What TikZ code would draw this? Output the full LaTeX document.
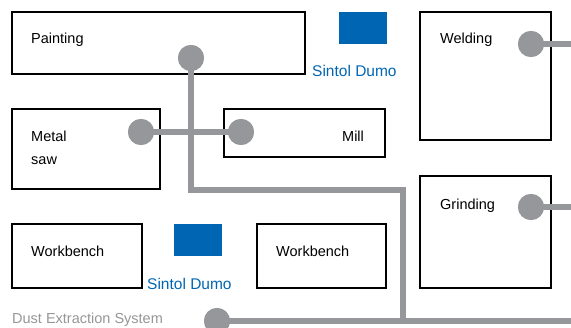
\documentclass[tikz,border=0pt]{standalone}
\usepackage{fontspec}
\setmainfont{Liberation Sans}
\definecolor{pipegray}{RGB}{150,151,155}
\definecolor{unitblue}{RGB}{0,102,179}
\definecolor{captiongray}{RGB}{150,150,150}
\tikzset{
  station/.style={draw=black, line width=1.8pt, fill=white, anchor=north west,
    inner sep=0pt, outer sep=0pt},
  label/.style={anchor=base west, inner sep=0pt, font=\fontsize{14.5}{16}\selectfont},
  unitlabel/.style={label, text=unitblue, font=\fontsize{15.5}{17}\selectfont},
  unit/.style={fill=unitblue, anchor=north west, inner sep=0pt, outer sep=0pt,
    minimum width=48pt, minimum height=32pt},
  pipe/.style={draw=pipegray, line width=6.5pt, line join=miter},
  port/.style={circle, fill=pipegray, inner sep=0pt, minimum size=26pt}
}
\begin{document}
\begin{tikzpicture}[x=1pt, y=-1pt]
  \useasboundingbox (0,0) rectangle (571,328);

  % workstations
  \node[station, minimum width=293pt, minimum height=62pt] (painting) at (12,12) {};
  \node[station, minimum width=131pt, minimum height=128pt] (welding) at (420,12) {};
  \node[station, minimum width=148pt, minimum height=80pt] (saw) at (12,109) {};
  \node[station, minimum width=161pt, minimum height=48pt] (mill) at (224,109) {};
  \node[station, minimum width=131pt, minimum height=112pt] (grinding) at (420,176) {};
  \node[station, minimum width=130pt, minimum height=64pt] (bench1) at (12,224) {};
  \node[station, minimum width=129pt, minimum height=64pt] (bench2) at (257,224) {};

  % station names
  \node[label] (tPainting) at (31,44) {Painting};
  \node[label] (tWelding) at (440,44) {Welding};
  \node[label] (tMetal) at (31,142) {Metal};
  \node[label] (tSaw) at (31,165) {saw};
  \node[label] (tMill) at (342,142) {Mill};
  \node[label] (tGrinding) at (440,210) {Grinding};
  \node[label] (tBench1) at (31,257) {Workbench};
  \node[label] (tBench2) at (276,257) {Workbench};

  % extraction units
  \node[unit] (unitA) at (339,12) {};
  \node[unitlabel] (tUnitA) at (312,77) {Sintol Dumo};
  \node[unit] (unitB) at (174,224) {};
  \node[unitlabel] (tUnitB) at (147,290) {Sintol Dumo};

  \node[label, text=captiongray] (tDust) at (12,324) {Dust Extraction System};

  % pipe junctions and open ends
  \coordinate (j1) at (191,190);
  \coordinate (j2) at (403,190);
  \coordinate (j3) at (403,321);
  \coordinate (outMain) at (575,321);
  \coordinate (outWeld) at (575,44);
  \coordinate (outGrind) at (575,207);

  % ports
  \node[port] (pPaint) at (191,58) {};
  \node[port] (pWeld) at (531,44) {};
  \node[port] (pSaw) at (141,132) {};
  \node[port] (pMill) at (241,132) {};
  \node[port] (pGrind) at (531,207) {};
  \node[port] (pMain) at (217,321) {};

  % ducting
  \draw[pipe] (pPaint.center) -- (j1) -- (j2) -- (j3);
  \draw[pipe] (pMain.center) -- (outMain);
  \draw[pipe] (pWeld.center) -- (outWeld);
  \draw[pipe] (pGrind.center) -- (outGrind);
  \draw[pipe] (pSaw.center) -- (pMill.center);

  % redraw ports on top of ducting
  \foreach \p in {pPaint,pWeld,pSaw,pMill,pGrind,pMain}
    \fill[pipegray] (\p) circle (13pt);
\end{tikzpicture}
\end{document}
